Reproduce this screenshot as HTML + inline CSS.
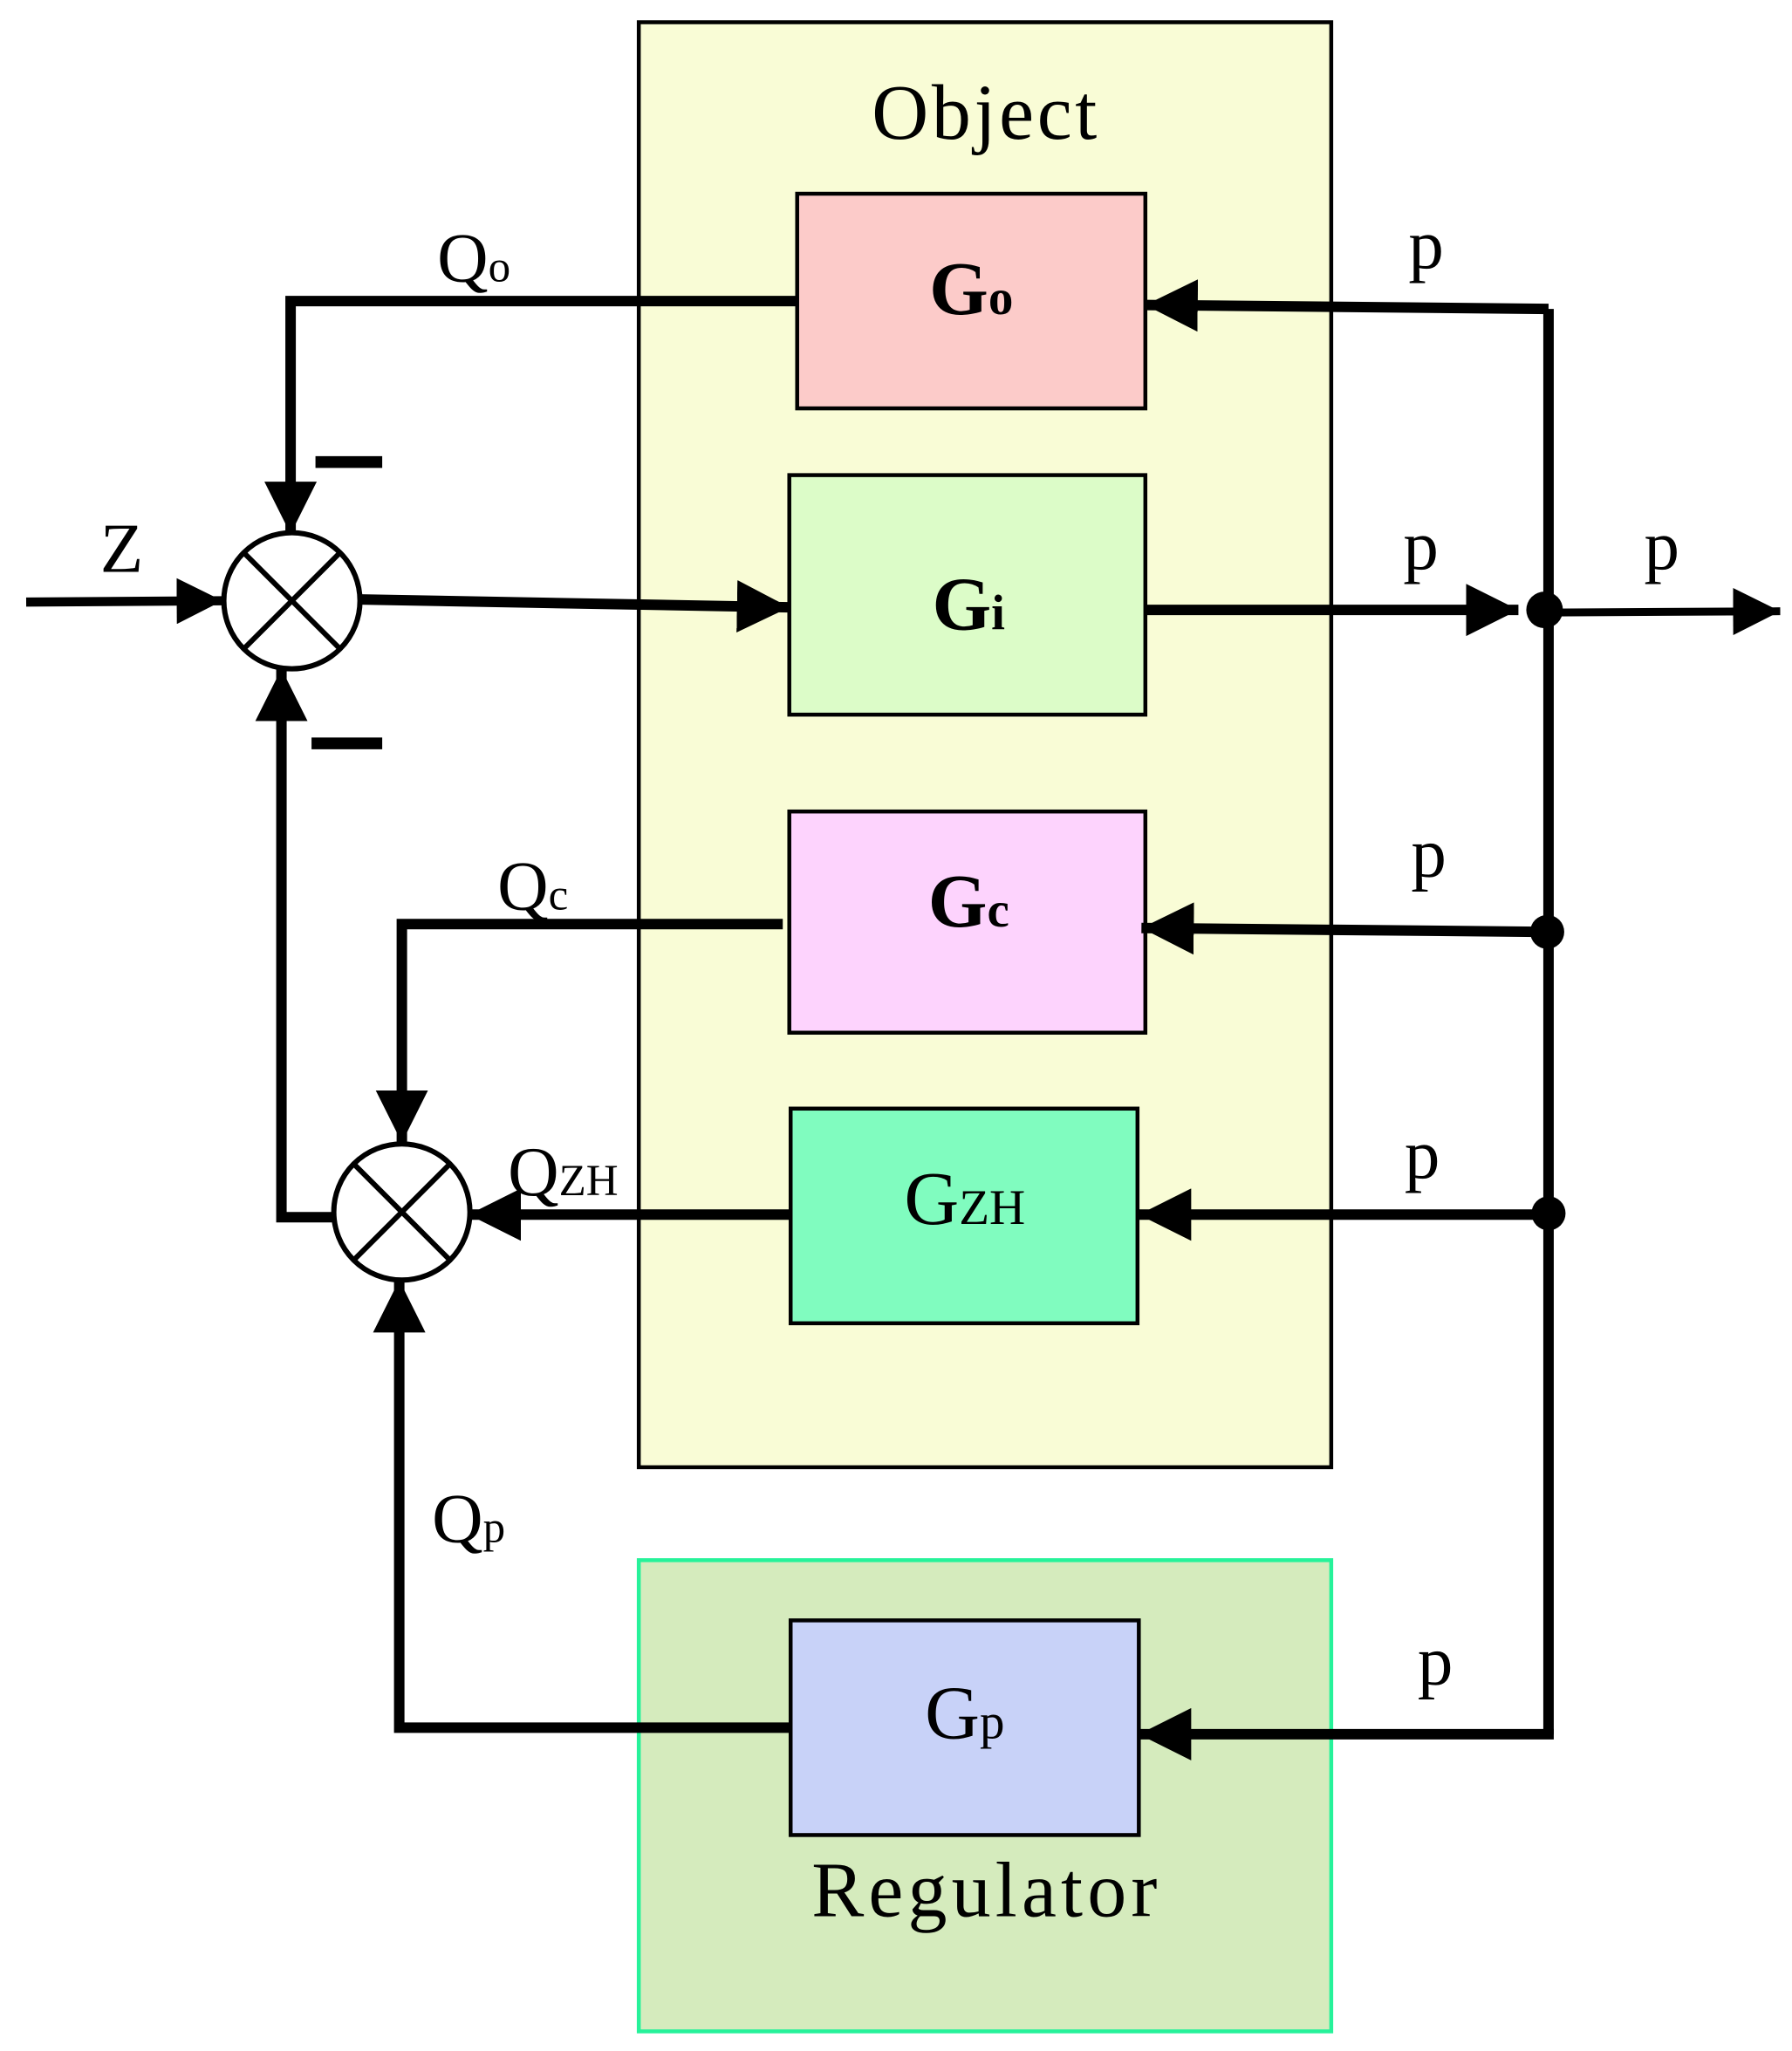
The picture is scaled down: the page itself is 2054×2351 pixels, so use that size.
<!DOCTYPE html>
<html><head><style>html,body{margin:0;padding:0;background:#fff}svg{display:block}</style></head>
<body>
<svg width="2054" height="2351" viewBox="0 0 1369 1567" preserveAspectRatio="none" xmlns="http://www.w3.org/2000/svg" font-family="Liberation Serif, serif">
<defs>
<marker id="a" viewBox="0 0 10 10" refX="10" refY="5" markerWidth="5" markerHeight="5" markerUnits="strokeWidth" orient="auto"><path d="M0,0 L10,5 L0,10 z" fill="#000"/></marker>
<marker id="b" viewBox="0 0 10 10" refX="10" refY="5" markerWidth="6" markerHeight="6" markerUnits="strokeWidth" orient="auto"><path d="M0,0 L10,5 L0,10 z" fill="#000"/></marker>
</defs>
<rect x="488" y="17" width="529" height="1104" fill="#f9fcd6" stroke="#000" stroke-width="3"/>
<rect x="488" y="1192" width="529" height="360" fill="#d5ebbd" stroke="#26f29a" stroke-width="3"/>
<text x="752" y="106" font-size="60" text-anchor="middle" textLength="172">Object</text>
<text x="752" y="1464" font-size="60" text-anchor="middle" textLength="264">Regulator</text>
<g stroke="#000" stroke-width="3">
<rect x="609" y="148" width="266" height="164" fill="#fccbc9"/>
<rect x="603" y="363" width="272" height="183" fill="#dcfcc8"/>
<rect x="603" y="620" width="272" height="169" fill="#fdd3fd"/>
<rect x="604" y="847" width="265" height="164" fill="#80fcbf"/>
<rect x="604" y="1238" width="266" height="164" fill="#c8d2f8"/>
</g>
<g font-size="58" text-anchor="middle">
<text x="742" y="240" font-weight="bold">G<tspan font-size="38">o</tspan></text>
<text x="740" y="481" font-weight="bold">G<tspan font-size="38">i</tspan></text>
<text x="740" y="708" font-weight="bold">G<tspan font-size="38">c</tspan></text>
<text x="737" y="935">G<tspan font-size="38">ZH</tspan></text>
<text x="737" y="1328">G<tspan font-size="38">p</tspan></text>
</g>
<g fill="none" stroke="#000" stroke-width="8">
<path d="M20,460 L170,459" marker-end="url(#a)" stroke-width="7"/>
<path d="M275,458 L603,464" marker-end="url(#a)"/>
<path d="M609,230 L222,230 L222,408" marker-end="url(#a)"/>
<path d="M875,466 L1160,466" marker-end="url(#a)"/>
<path d="M1180,468 L1360,467" marker-end="url(#b)" stroke-width="6"/>
<path d="M1183,236 L1183,1325"/>
<path d="M1183,236 L875,233" marker-end="url(#a)"/>
<path d="M1182,712 L872,709" marker-end="url(#a)"/>
<path d="M1183,928 L870,928" marker-end="url(#a)"/>
<path d="M1187,1325 L870,1325" marker-end="url(#a)"/>
<path d="M598,706 L307,706 L307,873" marker-end="url(#a)"/>
<path d="M603,928 L358,928" marker-end="url(#a)"/>
<path d="M255,930 L215,930 L215,511" marker-end="url(#a)"/>
<path d="M604,1320 L305,1320 L305,978" marker-end="url(#a)"/>
</g>
<g fill="#000"><circle cx="1180" cy="466" r="14"/><circle cx="1182" cy="712" r="13"/><circle cx="1183" cy="927" r="13"/></g>
<g stroke="#000" stroke-width="4" fill="#fff">
<circle cx="223" cy="459" r="52"/><circle cx="307" cy="926" r="52"/>
</g>
<g stroke="#000" stroke-width="4">
<path d="M186,422 L260,496 M260,422 L186,496"/>
<path d="M270,889 L344,963 M344,889 L270,963"/>
</g>
<g stroke="#000" stroke-width="9"><path d="M241,353 L292,353 M238,568 L292,568"/></g>
<g font-size="54">
<text x="93" y="437" text-anchor="middle">Z</text>
<text x="334" y="215">Q<tspan font-size="34">o</tspan></text>
<text x="380" y="695">Q<tspan font-size="34">c</tspan></text>
<text x="388" y="913">Q<tspan font-size="34">ZH</tspan></text>
<text x="330" y="1178">Q<tspan font-size="34">p</tspan></text>
<text x="1076" y="205">p</text>
<text x="1072" y="435">p</text>
<text x="1256" y="435">p</text>
<text x="1078" y="670">p</text>
<text x="1073" y="900">p</text>
<text x="1083" y="1287">p</text>
</g>
</svg>
</body></html>
